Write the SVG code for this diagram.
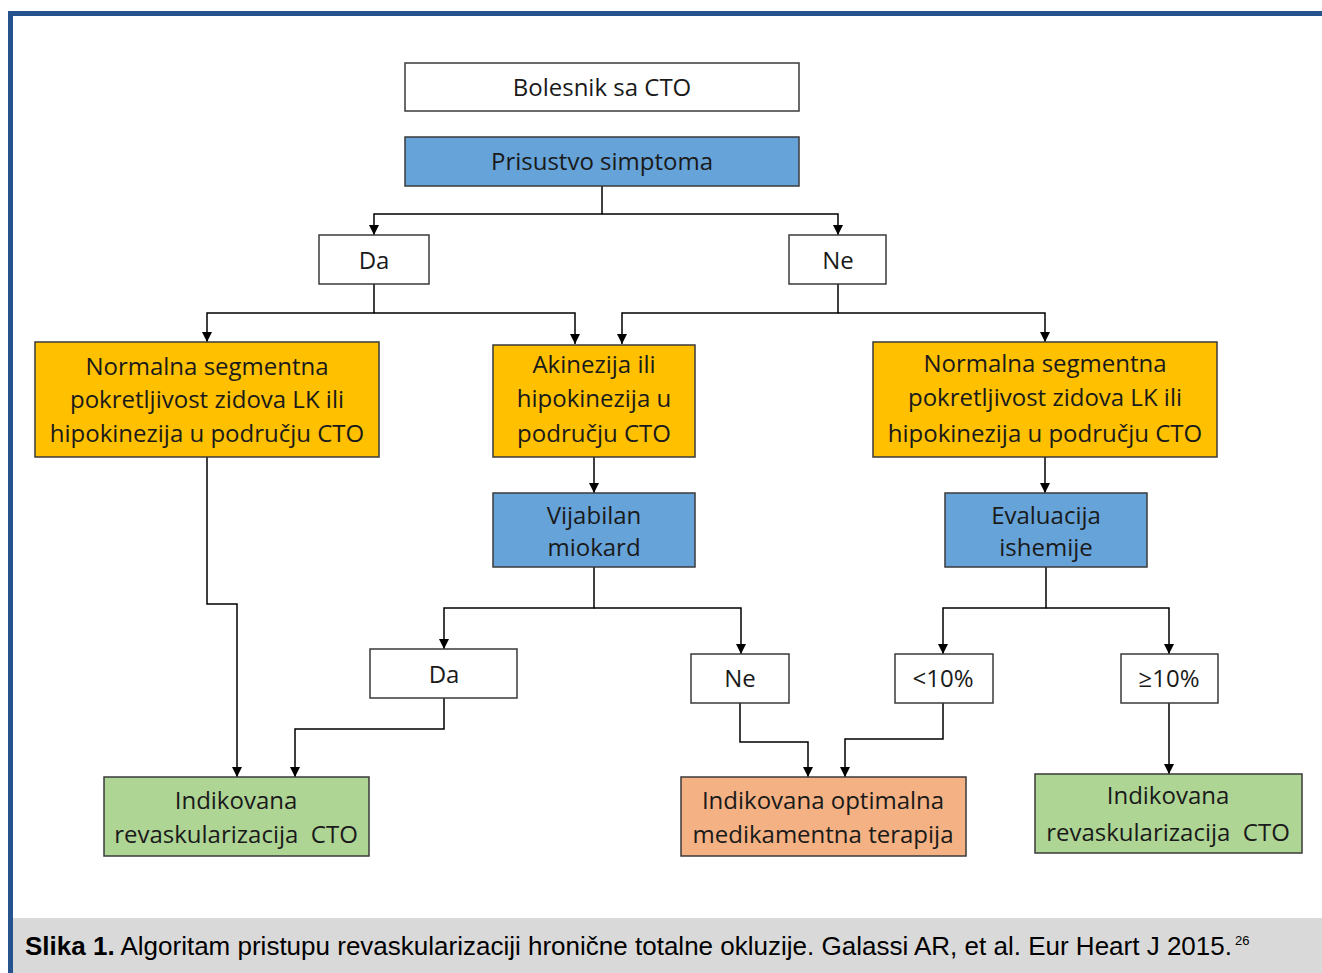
<svg xmlns="http://www.w3.org/2000/svg" width="1322" height="973" viewBox="0 0 1322 973">
<style>
.box{stroke:#3a3a3a;stroke-width:1.5}
.w{fill:#ffffff}.b{fill:#66A3D8}.y{fill:#FFC000}.g{fill:#AFD595}.o{fill:#F4B183}
text{font-family:"Open Sans","Noto Sans","Liberation Sans",sans-serif;font-size:24px;fill:#1a1a1a;text-anchor:middle;dominant-baseline:central}
.c{fill:none;stroke:#000;stroke-width:1.5}
.cap{font-family:"Liberation Sans",sans-serif;font-size:25px;text-anchor:start;dominant-baseline:alphabetic;fill:#000}
</style>
<defs>
<marker id="ar" viewBox="0 0 10 10" refX="10" refY="5" markerWidth="10" markerHeight="10" markerUnits="userSpaceOnUse" orient="auto">
<path d="M0,0 L10,5 L0,10 z" fill="#000"/>
</marker>
</defs>
<rect x="0" y="0" width="1322" height="973" fill="#fff"/>
<rect x="10.5" y="13.5" width="1320" height="980" fill="none" stroke="#26538D" stroke-width="5"/>
<rect x="13" y="918" width="1309" height="55" fill="#D9D9D9"/>

<g id="connectors">
<path class="c" d="M602,186 V214 H374 V235" marker-end="url(#ar)"/>
<path class="c" d="M602,214 H838 V235" marker-end="url(#ar)"/>
<path class="c" d="M374,284 V313 H207 V342" marker-end="url(#ar)"/>
<path class="c" d="M374,313 H575 V344" marker-end="url(#ar)"/>
<path class="c" d="M838,284 V313 H622 V344" marker-end="url(#ar)"/>
<path class="c" d="M838,313 H1045 V342" marker-end="url(#ar)"/>
<path class="c" d="M594,457 V493" marker-end="url(#ar)"/>
<path class="c" d="M1045,457 V493" marker-end="url(#ar)"/>
<path class="c" d="M207,457 V604 H237 V777" marker-end="url(#ar)"/>
<path class="c" d="M594,567 V608 H444 V649" marker-end="url(#ar)"/>
<path class="c" d="M594,608 H741 V654" marker-end="url(#ar)"/>
<path class="c" d="M1046,567 V608 H943 V654" marker-end="url(#ar)"/>
<path class="c" d="M1046,608 H1169 V654" marker-end="url(#ar)"/>
<path class="c" d="M444,698 V729 H295 V777" marker-end="url(#ar)"/>
<path class="c" d="M740,703 V742 H808 V777" marker-end="url(#ar)"/>
<path class="c" d="M943,703 V739 H845 V777" marker-end="url(#ar)"/>
<path class="c" d="M1169,703 V774" marker-end="url(#ar)"/>
</g>

<g id="n-bolesnik"><rect class="box w" x="405" y="63" width="394" height="48"/><text x="602" y="86">Bolesnik sa CTO</text></g>
<g id="n-simptom"><rect class="box b" x="405" y="137" width="394" height="49"/><text x="602" y="160">Prisustvo simptoma</text></g>
<g id="n-da1"><rect class="box w" x="319" y="235" width="110" height="49"/><text x="374" y="259">Da</text></g>
<g id="n-ne1"><rect class="box w" x="789" y="235" width="97" height="49"/><text x="838" y="259">Ne</text></g>
<g id="n-normal-left"><rect class="box y" x="35" y="342" width="344" height="115"/>
<text x="207" y="365">Normalna segmentna</text><text x="207" y="398">pokretljivost zidova LK ili</text><text x="207" y="432">hipokinezija u području CTO</text></g>
<g id="n-akinezija"><rect class="box y" x="493" y="345" width="202" height="112"/>
<text x="594" y="363">Akinezija ili</text><text x="594" y="397">hipokinezija u</text><text x="594" y="432">području CTO</text></g>
<g id="n-normal-right"><rect class="box y" x="873" y="342" width="344" height="115"/>
<text x="1045" y="362">Normalna segmentna</text><text x="1045" y="396">pokretljivost zidova LK ili</text><text x="1045" y="432">hipokinezija u području CTO</text></g>
<g id="n-vijabilan"><rect class="box b" x="493" y="493" width="202" height="74"/>
<text x="594" y="514">Vijabilan</text><text x="594" y="546">miokard</text></g>
<g id="n-evaluacija"><rect class="box b" x="945" y="493" width="202" height="74"/>
<text x="1046" y="514">Evaluacija</text><text x="1046" y="546">ishemije</text></g>
<g id="n-da2"><rect class="box w" x="370" y="649" width="147" height="49"/><text x="444" y="673">Da</text></g>
<g id="n-ne2"><rect class="box w" x="691" y="654" width="98" height="49"/><text x="740" y="677">Ne</text></g>
<g id="n-lt10"><rect class="box w" x="895" y="654" width="98" height="49"/><text x="943" y="677">&lt;10%</text></g>
<g id="n-ge10"><rect class="box w" x="1121" y="654" width="97" height="49"/><text x="1169" y="677">≥10%</text></g>
<g id="n-revask-left"><rect class="box g" x="104" y="777" width="265" height="79"/>
<text x="236" y="799">Indikovana</text><text x="236" y="833" xml:space="preserve">revaskularizacija  CTO</text></g>
<g id="n-terapija"><rect class="box o" x="681" y="777" width="285" height="79"/>
<text x="823" y="799">Indikovana optimalna</text><text x="823" y="833">medikamentna terapija</text></g>
<g id="n-revask-right"><rect class="box g" x="1035" y="774" width="267" height="79"/>
<text x="1168" y="794">Indikovana</text><text x="1168" y="831" xml:space="preserve">revaskularizacija  CTO</text></g>

<text class="cap" x="25" y="955" textLength="1207" lengthAdjust="spacingAndGlyphs"><tspan font-weight="bold">Slika 1.</tspan> Algoritam pristupu revaskularizaciji hronične totalne okluzije. Galassi AR, et al. Eur Heart J 2015.</text>
<text class="cap" x="1235" y="945" style="font-size:13px">26</text>
</svg>
